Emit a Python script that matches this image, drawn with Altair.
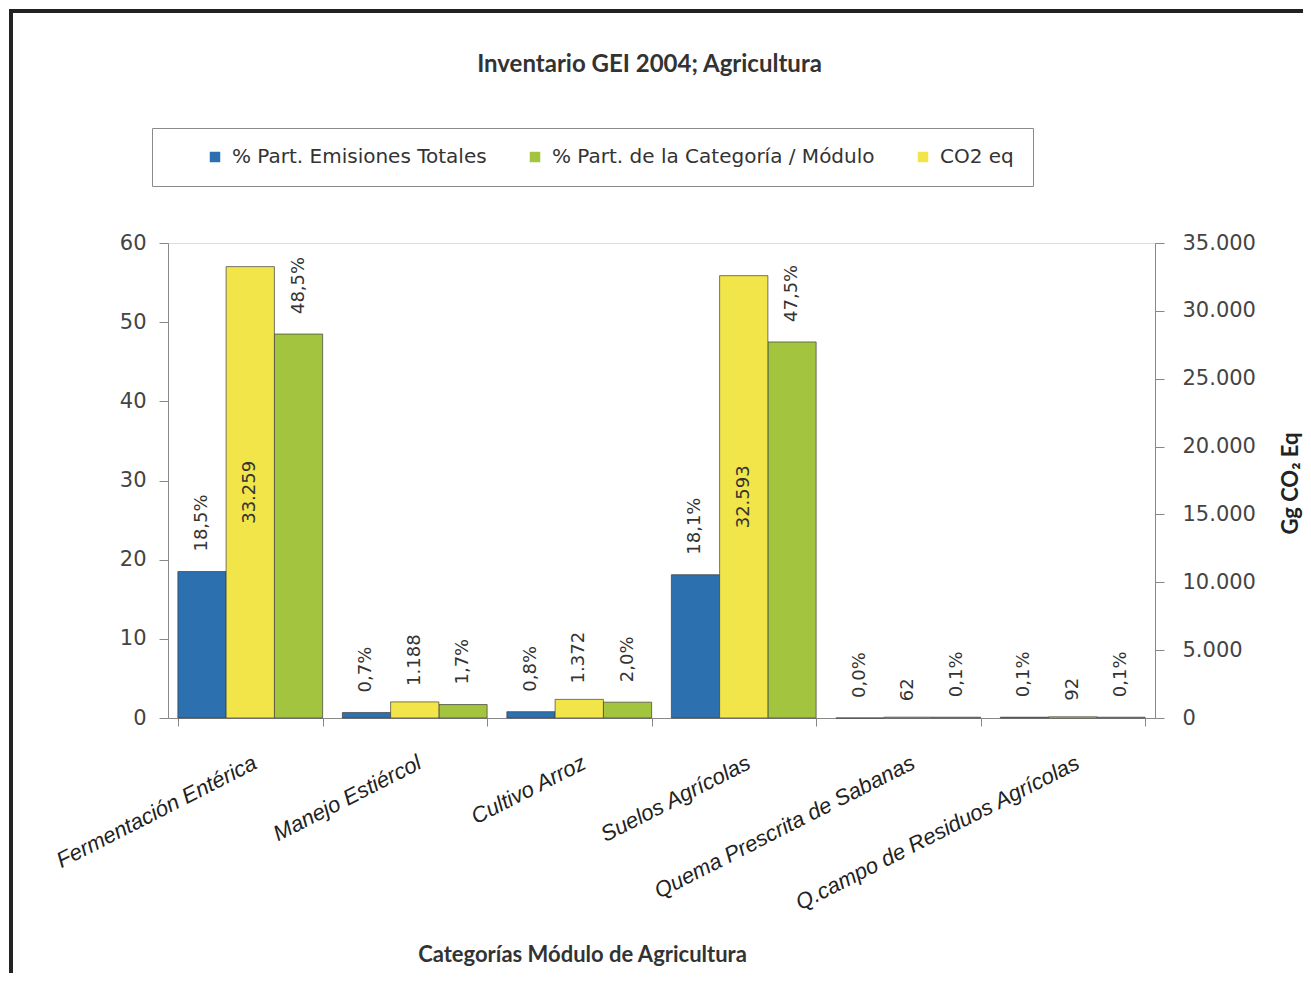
import altair as alt
import pandas as pd

categories = ["Fermentación Entérica", "Manejo Estiércol", "Cultivo Arroz",
              "Suelos Agrícolas", "Quema Prescrita de Sabanas",
              "Q.campo de Residuos Agrícolas"]
pct_total = [18.5, 0.7, 0.8, 18.1, 0.0, 0.1]
pct_categoria = [48.5, 1.7, 2.0, 47.5, 0.1, 0.1]
co2_eq = [33259, 1188, 1372, 32593, 62, 92]

series_names = ["% Part. Emisiones Totales", "% Part. de la Categoría / Módulo", "CO2 eq"]
series_colors = ["#2c70b0", "#a2c43e", "#f1e54a"]
bar_order = ["1_total", "2_co2", "3_cat"]  # within-group order: blue, yellow, green
left_ticks = [0, 10, 20, 30, 40, 50, 60]
right_ticks = [0, 5000, 10000, 15000, 20000, 25000, 30000, 35000]

pct_rows = []
for c, a, b in zip(categories, pct_total, pct_categoria):
    pct_rows.append({"cat": c, "serie": series_names[0], "pos": bar_order[0], "value": a})
    pct_rows.append({"cat": c, "serie": series_names[1], "pos": bar_order[2], "value": b})
pct_df = pd.DataFrame(pct_rows)
co2_df = pd.DataFrame({"cat": categories, "serie": series_names[2], "pos": bar_order[1], "value": co2_eq})

x_enc = alt.X("cat:N", sort=categories,
              scale=alt.Scale(paddingInner=0.12, paddingOuter=0.06),
              axis=alt.Axis(title="Categorías Módulo de Agricultura", labelAngle=333,
                            labelAlign="right", labelBaseline="top", labelPadding=26,
                            labelFont="Liberation Sans", labelFontStyle="italic",
                            labelFontSize=22, labelColor="#222", labelLimit=500,
                            tickBand="extent", tickSize=8, tickColor="#888",
                            domainColor="#888", titleFont="Lato", titleFontWeight="bold",
                            titleFontSize=22, titleColor="#333", titleX=414, titleY=226,
                            titleAnchor="middle", titleAlign="center", titleBaseline="top"))
xo_enc = alt.XOffset("pos:N", scale=alt.Scale(domain=bar_order, paddingInner=0, paddingOuter=0))
color_enc = alt.Color("serie:N", scale=alt.Scale(domain=series_names, range=series_colors),
                      legend=alt.Legend(title=None, orient="none", direction="horizontal",
                                        legendX=-16, legendY=-115, columns=3,
                                        fillColor="white", strokeColor="#8a8a8a",
                                        padding=19, columnPadding=4, symbolOffset=34,
                                        symbolType="square", symbolSize=110,
                                        symbolStrokeWidth=0, labelOffset=7,
                                        labelFont="DejaVu Sans", labelFontSize=20,
                                        labelColor="#333", labelLimit=500))

y_left_axis = alt.Axis(title=None, values=left_ticks, labelFont="DejaVu Sans", labelFontSize=21,
                       labelColor="#444", tickSize=9, tickColor="#888", domainColor="#888",
                       labelPadding=13, grid=False)
y_right_axis = alt.Axis(title="Gg CO₂ Eq", orient="right", values=right_ticks, format=",d",
                        labelFont="DejaVu Sans", labelFontSize=21, labelColor="#444",
                        tickSize=9, tickColor="#888", domainColor="#888", labelPadding=18,
                        grid=False, titleFont="Lato", titleFontWeight="bold", titleFontSize=22,
                        titleColor="#222", titleAngle=270, titleX=135, titleY=240,
                        titleAlign="center", titleBaseline="middle")

y_left = alt.Scale(domain=[0, 60], nice=False)
y_right = alt.Scale(domain=[0, 35000], nice=False)

pct_bars = alt.Chart(pct_df).mark_bar(stroke="#3d3d3d", strokeWidth=1, strokeOpacity=0.7).encode(
    x=x_enc, xOffset=xo_enc,
    y=alt.Y("value:Q", scale=y_left, axis=y_left_axis),
    color=color_enc)
pct_text = alt.Chart(pct_df).transform_calculate(frac="datum.value / 100").mark_text(
    angle=270, align="left", baseline="middle", dx=20, font="DejaVu Sans",
    fontSize=18, color="#333").encode(
    x=x_enc, xOffset=xo_enc,
    y=alt.Y("value:Q", scale=y_left, axis=y_left_axis),
    text=alt.Text("frac:Q", format=".1%"))
pct_layer = alt.layer(pct_bars, pct_text)

co2_bars = alt.Chart(co2_df).mark_bar(stroke="#3d3d3d", strokeWidth=1, strokeOpacity=0.7).encode(
    x=x_enc, xOffset=xo_enc,
    y=alt.Y("value:Q", scale=y_right, axis=y_right_axis),
    color=color_enc)
co2_text_big = alt.Chart(co2_df).transform_filter("datum.value > 5000").transform_calculate(
    half="datum.value / 2").mark_text(
    angle=270, align="center", baseline="middle", font="DejaVu Sans",
    fontSize=18, color="#333").encode(
    x=x_enc, xOffset=xo_enc,
    y=alt.Y("half:Q", scale=y_right, axis=y_right_axis),
    text=alt.Text("value:Q", format=",d"))
co2_text_small = alt.Chart(co2_df).transform_filter("datum.value <= 5000").mark_text(
    angle=270, align="left", baseline="middle", dx=16, font="DejaVu Sans",
    fontSize=18, color="#333").encode(
    x=x_enc, xOffset=xo_enc,
    y=alt.Y("value:Q", scale=y_right, axis=y_right_axis),
    text=alt.Text("value:Q", format=",d"))
co2_layer = alt.layer(co2_bars, co2_text_big, co2_text_small)

frame = alt.Chart(pd.DataFrame({"f": [0]})).mark_rect(
    filled=False, stroke="#222", strokeWidth=4).encode(
    x=alt.value(-157), x2=alt.value(1180), y=alt.value(-232), y2=alt.value(780))

chart = alt.layer(pct_layer, co2_layer, frame).resolve_scale(y="independent").properties(
    width=987, height=475,
    title=alt.TitleParams("Inventario GEI 2004; Agricultura", font="Lato", fontWeight="bold",
                          fontSize=24, color="#333", anchor="middle", offset=-68, dx=-12),
    padding={"left": 160, "top": 235, "right": 148, "bottom": 255},
    autosize=alt.AutoSizeParams(type="none"),
).configure_view(stroke=None).configure(
    locale={"number": {"decimal": ",", "thousands": ".", "grouping": [3], "currency": ["", ""]}}
)

chart.save("out.html", embed_options={"renderer": "svg", "actions": False})
